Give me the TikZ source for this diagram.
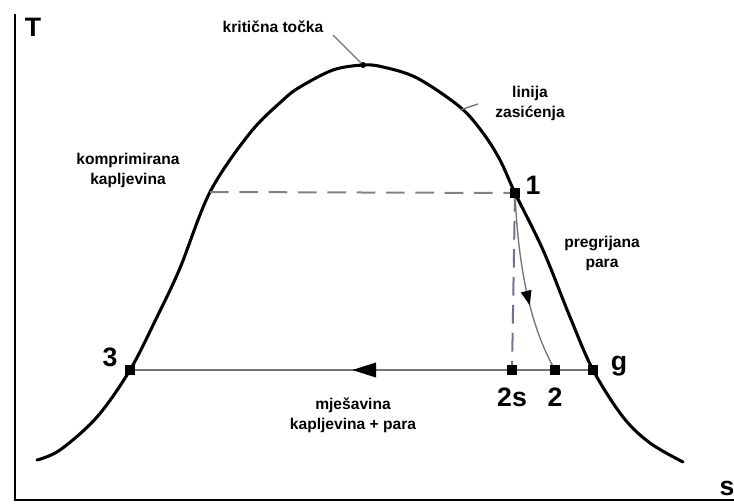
\documentclass[tikz,border=0pt]{standalone}
\usepackage{fontspec}
\setmainfont{Liberation Sans}
\usepackage{tikz}
\usetikzlibrary{arrows.meta,positioning,calc,decorations.markings}
\definecolor{lineGray}{RGB}{115,115,115}
\definecolor{dashGray}{RGB}{130,130,130}
\definecolor{dashBlue}{RGB}{110,115,145}
\tikzstyle{statept}=[rectangle, fill=black, inner sep=0pt, minimum size=7pt]
\tikzstyle{critpt}=[circle, fill=black, inner sep=0pt, minimum size=4.5pt]
\tikzstyle{ptlabel}=[font=\fontsize{20}{22}\selectfont\bfseries, inner sep=0pt]
\tikzstyle{regionlabel}=[font=\fontsize{11.7}{15}\selectfont\bfseries, align=center, inner sep=0pt]
\tikzstyle{axisline}=[line width=2.2pt, black]
\tikzstyle{satline}=[line width=2.3pt, black, line cap=round]
\tikzstyle{leader}=[line width=1pt, lineGray]
\tikzstyle{condline}=[line width=1.5pt, lineGray, postaction={decorate},
  decoration={markings, mark=at position 0.52 with {\arrow{Triangle[length=18pt,width=11pt,color=black]}}}]
\tikzstyle{expline}=[line width=1pt, lineGray, postaction={decorate},
  decoration={markings, mark=at position 0.62 with {\arrow{Triangle[length=11pt,width=8pt,color=black]}}}]

\begin{document}
\begin{tikzpicture}[x=0.75pt, y=-0.75pt]
        \useasboundingbox (0,0) rectangle (734,503);

        % Osi
        \coordinate (o) at (15,500);
        \coordinate (ty) at (15,14);
        \coordinate (sx) at (734,500);
        \draw[axisline] (ty) -- (o) -- (sx);
        \node[ptlabel] (lt) at (33,27) {T};
        \node[ptlabel] (ls) at (727,488) {s};

        % Linija zasićenja
        \draw[satline] plot[smooth, tension=0.55] coordinates {
          (37,460) (60,450) (97,417) (130,370) (157,317) (180,268) (210,192)
          (250,133) (283,100) (300,87) (333,70) (363,65) (383,67) (417,78)
          (460,107) (483,133) (500,160) (515,193) (543,250) (570,317)
          (593,370) (623,417) (650,443) (683,462)};

        % Koordinate točaka
        \coordinate (c1) at (515,193);
        \coordinate (c3) at (130,370);
        \coordinate (cg) at (593,370);
        \coordinate (c2s) at (512,370);
        \coordinate (c2) at (555,370);
        \coordinate (kl) at (210,192);

        % Procesi
        \draw[dashGray, line width=1.5pt, dash pattern=on 14pt off 8pt] (kl) -- (c1);
        \draw[dashBlue, line width=1.5pt, dash pattern=on 14pt off 7pt] (c1) -- (c2s);
        \draw[expline] (c1) .. controls (519,290) and (538,340) .. (c2);
        \draw[condline] (cg) -- (c3);

        % Točke
        \node[critpt] (kt) at (363,65) {};
        \node[statept] (p1) at (c1) {};
        \node[statept] (p3) at (c3) {};
        \node[statept] (pg) at (cg) {};
        \node[statept] (p2s) at (c2s) {};
        \node[statept] (p2) at (c2) {};

        % Oznake točaka
        \node[ptlabel] (l1) at (533,185) {1};
        \node[ptlabel] (l3) at (110,357) {3};
        \node[ptlabel] (lg) at (619,366) {g};
        \node[ptlabel] (l2s) at (512,397) {2s};
        \node[ptlabel] (l2) at (555,397) {2};

        % Opisi područja
        \node[regionlabel] (tkr) at (273,27) {kritična točka};
        \draw[leader] (333,35) -- (kt);
        \node[regionlabel] (tlin) at (530,103) {linija\\zasićenja};
        \coordinate (lz) at (460,110);
        \draw[leader] (lz) -- (478,104);
        \node[regionlabel] (tkomp) at (128,170) {komprimirana\\kapljevina};
        \node[regionlabel] (tpreg) at (602,253) {pregrijana\\para};
        \node[regionlabel] (tmj) at (353,415) {mješavina\\kapljevina + para};
      \end{tikzpicture}
\end{document}
